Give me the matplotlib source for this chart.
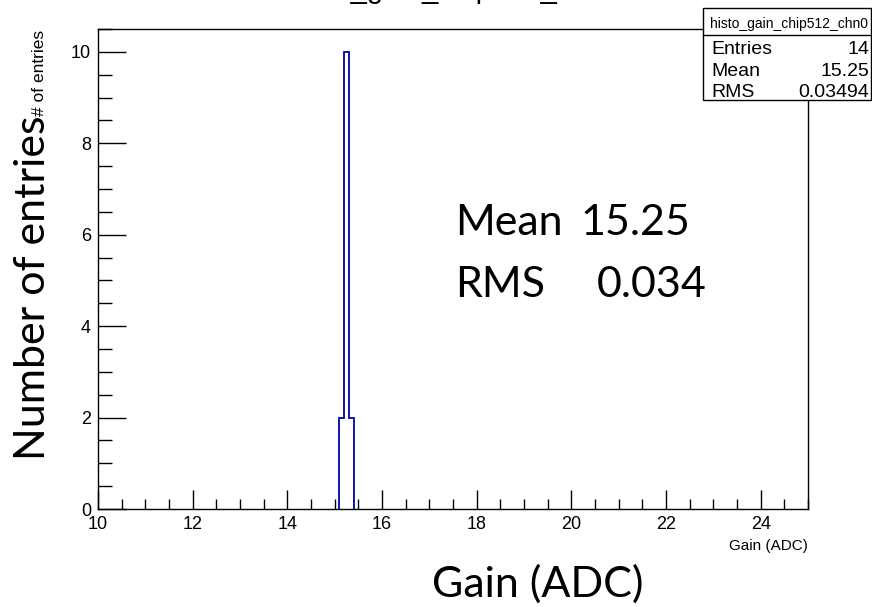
import numpy as np
import matplotlib
matplotlib.use("Agg")
import matplotlib.pyplot as plt
from matplotlib.patches import Rectangle
from matplotlib.lines import Line2D
from matplotlib.ticker import MultipleLocator

# Histogram contents (bin edges and counts)
bin_edges = [15.1, 15.2, 15.3, 15.4]
counts = [2, 10, 2]
hist_name = "histo_gain_chip512_chn0"
stats_labels = ["Entries", "Mean", "RMS"]
stats_values = ["14", "15.25", "0.03494"]
note_keys = ["Mean", "RMS"]
note_values = ["15.25", "0.034"]

W, H = 872, 607
fig = plt.figure(figsize=(W / 100, H / 100), dpi=100)
ax = fig.add_axes([98 / W, 1 - 509 / H, (808 - 98) / W, (509 - 29) / H])

ax.stairs(counts, bin_edges, baseline=0, color="#0000a8", linewidth=1.3)
ax.set_xlim(10, 25)
ax.set_ylim(0, 10.5)

ax.xaxis.set_major_locator(MultipleLocator(2))
ax.xaxis.set_minor_locator(MultipleLocator(0.5))
ax.yaxis.set_major_locator(MultipleLocator(2))
ax.yaxis.set_minor_locator(MultipleLocator(0.5))
ax.tick_params(axis="x", which="major", direction="in", length=14, width=1, pad=5)
ax.tick_params(axis="x", which="minor", direction="in", length=7, width=1)
ax.tick_params(axis="y", which="major", direction="in", length=20, width=1, pad=5)
ax.tick_params(axis="y", which="minor", direction="in", length=10, width=1)
for lab in ax.get_xticklabels() + ax.get_yticklabels():
    lab.set_fontfamily("Liberation Sans")
    lab.set_fontsize(13)
for sp in ax.spines.values():
    sp.set_linewidth(1)

# small ROOT-style axis titles
fig.text(808 / W, 1 - 546 / H, "Gain (ADC)", ha="right", va="center",
         family="Liberation Sans", fontsize=11)
fig.text(39 / W, 1 - 30 / H, "# of entries", ha="center", va="top", rotation=90,
         family="Liberation Sans", fontsize=12.5)

# large axis titles
fig.text(538 / W, 1 - 584 / H, "Gain (ADC)", ha="center", va="center",
         family="Lato", fontsize=31)
fig.text(33 / W, 1 - 288 / H, "Number of entries", ha="center", va="center",
         rotation=90, family="Lato", fontsize=31)

# histogram title, cut off by the top edge
fig.text(454 / W, 1 + 2 / H, hist_name, ha="center", va="baseline",
         family="Liberation Sans", fontsize=21)

# mean / RMS annotation
for i, (k, v) in enumerate(zip(note_keys, note_values)):
    y = 1 - (235 + 62 * i) / H
    fig.text(455 / W, y, k, ha="left", va="baseline", family="Lato", fontsize=31)
    fig.text((580 if i == 0 else 597) / W, y, v, ha="left", va="baseline",
             family="Lato", fontsize=31)

# stats box
bx0, bx1, by0, by1 = 703, 871, 8, 100
fig.add_artist(Rectangle((bx0 / W, 1 - by1 / H), (bx1 - bx0) / W, (by1 - by0) / H,
                         transform=fig.transFigure, facecolor="white",
                         edgecolor="black", linewidth=1))
fig.add_artist(Line2D([bx0 / W, bx1 / W], [1 - 35 / H, 1 - 35 / H],
                      transform=fig.transFigure, color="black", linewidth=1))
fig.text(710 / W, 1 - 28 / H, hist_name, ha="left", va="baseline",
         family="Liberation Sans", fontsize=10)
for i, (k, v) in enumerate(zip(stats_labels, stats_values)):
    y = 1 - (54 + 21.5 * i) / H
    fig.text(711 / W, y, k, ha="left", va="baseline", family="Liberation Sans", fontsize=14)
    fig.text(869 / W, y, v, ha="right", va="baseline", family="Liberation Sans", fontsize=14)

fig.savefig("out.png", dpi=100)
